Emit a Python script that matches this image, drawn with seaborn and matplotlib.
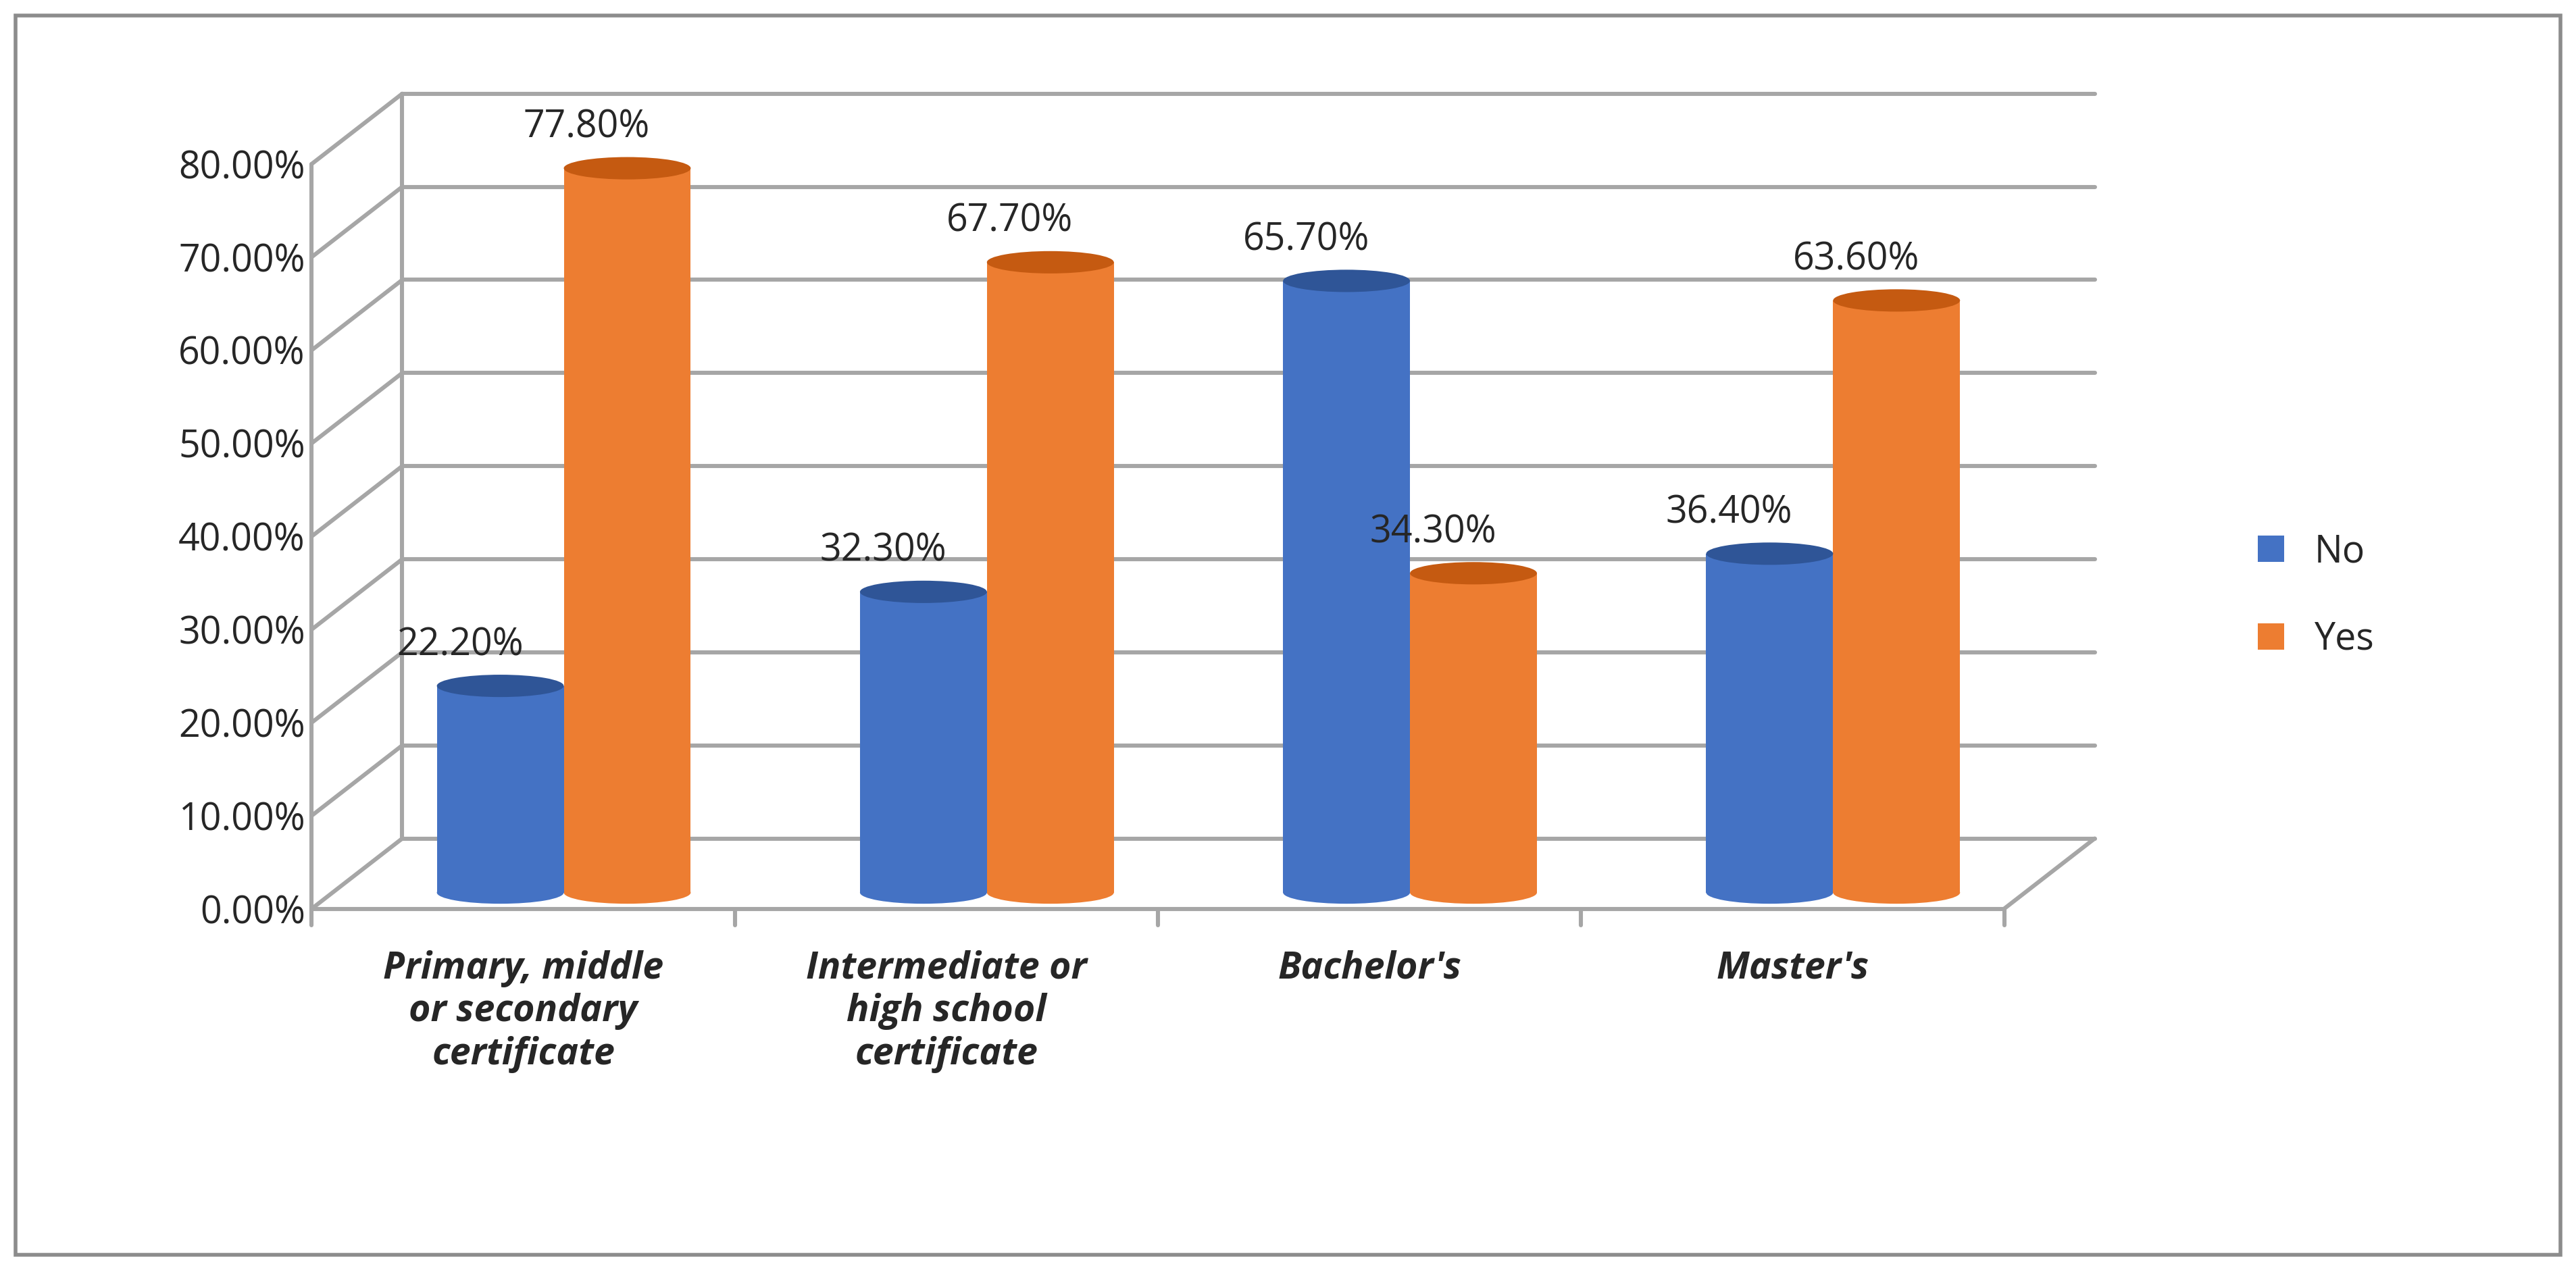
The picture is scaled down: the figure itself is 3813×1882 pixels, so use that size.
import matplotlib.pyplot as plt
import matplotlib.transforms as mtransforms
from matplotlib.patches import Ellipse
import pandas as pd
import seaborn as sns

categories = ["Primary, middle\nor secondary\ncertificate",
              "Intermediate or\nhigh school\ncertificate",
              "Bachelor's", "Master's"]
series = ["No", "Yes"]
no_vals = [22.2, 32.3, 65.7, 36.4]
yes_vals = [77.8, 67.7, 34.3, 63.6]
colors = ["#4472C4", "#ED7D31"]

df = pd.DataFrame({
    "cat": categories * 2,
    "series": ["No"] * 4 + ["Yes"] * 4,
    "value": no_vals + yes_vals,
})

sns.set_theme(style="white")
plt.rcParams["font.family"] = ["Open Sans", "DejaVu Sans"]

fig = plt.figure(figsize=(19.065, 9.41), dpi=200)
ax = fig.add_axes([0.121, 0.285, 0.657, 0.586])

sns.barplot(data=df, x="cat", y="value", hue="series", palette=colors,
            width=0.6, gap=0.0, ax=ax, saturation=1, legend=True, linewidth=0)

ax.set_ylim(0, 80)
ax.set_xlim(-0.5, 3.5)
ax.set_yticks(range(0, 81, 10))
ax.set_yticklabels([f"{v:.2f}%" for v in range(0, 81, 10)], fontsize=20)
ax.tick_params(axis="x", labelsize=20, pad=22)
for t in ax.get_xticklabels():
    t.set_fontweight("bold")
    t.set_fontstyle("italic")
ax.set_xlabel("")
ax.set_ylabel("")
for s in ax.spines.values():
    s.set_visible(False)

# pseudo-3D walls
off = mtransforms.ScaledTranslation(0.67, 0.52, fig.dpi_scale_trans)
back = ax.transData + off
gcol = "#A6A6A6"
for v in range(0, 81, 10):
    ax.plot([-0.5, 3.5], [v, v], transform=back, color=gcol, lw=2.2, clip_on=False, zorder=0)
    p0 = ax.transData.transform((-0.5, v))
    p1 = back.transform((-0.5, v))
    ax.plot([p0[0], p1[0]], [p0[1], p1[1]], transform=None, color=gcol, lw=2.2,
            clip_on=False, zorder=0)
ax.plot([-0.5, -0.5], [0, 80], transform=back, color=gcol, lw=2.2, clip_on=False, zorder=0)
p0 = ax.transData.transform((3.5, 0))
p1 = back.transform((3.5, 0))
ax.plot([p0[0], p1[0]], [p0[1], p1[1]], transform=None, color=gcol, lw=2.2, clip_on=False)
ax.plot([-0.5, 3.5], [0, 0], color=gcol, lw=2.2, clip_on=False)
ax.plot([-0.5, -0.5], [0, 80], color=gcol, lw=2.2, clip_on=False)
for x in [-0.5, 0.5, 1.5, 2.5, 3.5]:
    ax.plot([x, x], [0, -1.8], color=gcol, lw=2.2, clip_on=False)
ax.tick_params(axis="both", length=0)

# shift bars halfway into depth, add caps
half = mtransforms.ScaledTranslation(0.3, 0.12, fig.dpi_scale_trans)
dark = {"#4472C4": "#2F5597", "#ED7D31": "#C55A11"}
for cont, col in zip(ax.containers, colors):
    for bar in cont:
        bar.set_transform(ax.transData + half)
        bar.set_zorder(2)
        x = bar.get_x() + bar.get_width() / 2
        h = bar.get_height()
        cap = Ellipse((x, h), bar.get_width(), 2.4, transform=ax.transData + half,
                      facecolor=dark[col], edgecolor="none", zorder=3, clip_on=False)
        ax.add_patch(cap)
        bot = Ellipse((x, 0), bar.get_width(), 2.4, transform=ax.transData + half,
                      facecolor=col, edgecolor="none", zorder=1, clip_on=False)
        ax.add_patch(bot)
    ax.bar_label(cont, labels=[f"{v:.2f}%" for v in cont.datavalues], padding=20,
                 fontsize=20, transform=ax.transData + half)

leg = ax.legend(loc="center left", bbox_to_anchor=(1.13, 0.42), frameon=False,
                fontsize=20, handlelength=0.7, handleheight=0.7, labelspacing=1.3)

# outer border
fig.patches.append(plt.Rectangle((0.006, 0.013), 0.988, 0.975, transform=fig.transFigure,
                                 fill=False, edgecolor="#8C8C8C", lw=2))

fig.savefig("out.png", dpi=200)
